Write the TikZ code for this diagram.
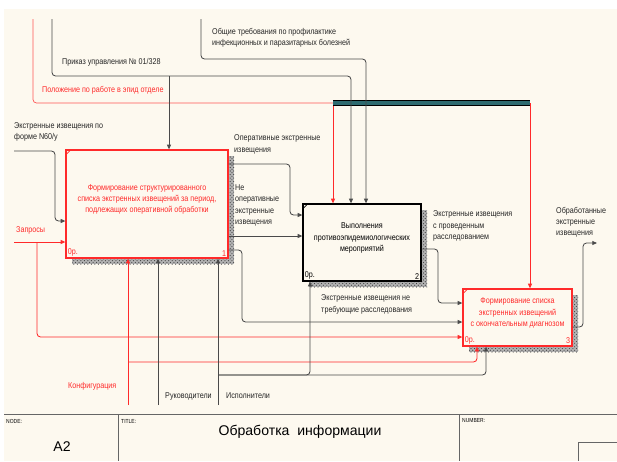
\documentclass[tikz,border=0pt]{standalone}
\usepackage{fontspec}
\usepackage{tikz}
\usetikzlibrary{positioning, arrows.meta, calc}
\usetikzlibrary{patterns}

\newfontfamily\diagfont{Liberation Sans}[FakeStretch=0.85]
\newfontfamily\titlefont{Liberation Sans}
\newcommand{\boxfont}{\diagfont\fontsize{7.2}{9.6}\selectfont}

\definecolor{bgcream}{HTML}{FDF9EF}
\definecolor{idefred}{HTML}{FF2A2A}
\definecolor{linegray}{HTML}{4A4A4A}
\definecolor{tunnelteal}{HTML}{2E6B70}

\newcommand{\idefbox}[7]{%
    % Hatched shadow, 6px to the right and below
    \fill[black!30] ($(#2)+(-#3/2+6,-#4/2+6)$) rectangle ($(#2)+(#3/2+6,#4/2+6)$);
    \fill[pattern=crosshatch dots, pattern color=black!75]
        ($(#2)+(-#3/2+6,-#4/2+6)$) rectangle ($(#2)+(#3/2+6,#4/2+6)$);
    \node[draw=#5, fill=bgcream, line width=1.1pt, minimum width=#3*0.3mm,
          minimum height=#4*0.3mm, inner sep=0pt] (#1) at (#2) {};
    % Small corner tick
    \draw[#5, line width=0.6pt] ($(#1.north west)+(0,6)$) -- ($(#1.north west)+(6,0)$);
    % Box text, cost and number
    \node[font=\boxfont, text=#5, align=center] at ($(#1.center)+(0,-4.5)$) {#7};
    \node[font=\boxfont, text=#5, anchor=south west, inner sep=2pt] at (#1.south west) {0р.};
    \node[font=\boxfont, text=#5, anchor=south east, inner sep=2pt] at (#1.south east) {#6};
}

\begin{document}
\begin{tikzpicture}[
        x=0.3mm, y=-0.3mm,
        >={Triangle[length=4pt, width=3.4pt]},
        arrow_style/.style={->, draw=linegray, line width=0.7pt, rounded corners=3},
        red_arrow/.style={->, draw=idefred, line width=0.7pt, rounded corners=3},
        red_line/.style={draw=idefred!80, line width=0.6pt, rounded corners=3},
        label_style/.style={font=\boxfont, text=black!85, align=left, anchor=west, inner sep=0pt},
        red_label/.style={label_style, text=idefred},
        frame_line/.style={draw=black!60, line width=0.6pt}
    ]
    \useasboundingbox (0,0) rectangle (617,461);
    \fill[white] (0,0) rectangle (617,461);
    \fill[bgcream] (4,9) rectangle (617,461);

    % =========================================================================
    % 1. ACTIVITY BOXES
    % =========================================================================
    \idefbox{A21}{147,204}{162}{108}{idefred}{1}{Формирование структурированного\\списка экстренных извещений за период,\\подлежащих оперативной обработки}
    \idefbox{A22}{362,242.5}{118}{77}{black}{2}{Выполнения\\противоэпидемиологических\\мероприятий}
    \idefbox{A23}{517.5,317.5}{109}{57}{idefred}{3}{Формирование списка\\экстренных извещений\\с окончательным диагнозом}

    % =========================================================================
    % 2. FREE ENDS OF THE CONNECTORS
    % =========================================================================
    \coordinate (polTop) at (33,19);
    \coordinate (prkTop) at (52,19);
    \coordinate (obsTop) at (201,19);
    \coordinate (tunL) at (333,103);
    \coordinate (tunR) at (530,103);
    \coordinate (prkR) at (351,76);
    \coordinate (prkB) at (169,76);
    \coordinate (obsR) at (366,59);
    \coordinate (n60In) at (14,151);
    \coordinate (zapIn) at (14,242);
    \coordinate (zapJ) at (37,242);
    \coordinate (konBot) at (128,405);
    \coordinate (konJ) at (128,362);
    \coordinate (rukBot) at (158,405);
    \coordinate (ispBot) at (218,405);
    \coordinate (ispJ) at (218,375);
    \coordinate (obrOut) at (597,243);

    % =========================================================================
    % 3. CONTROLS (from the top)
    % =========================================================================
    \draw[red_line] (polTop) |- (tunL);
    \draw[red_line] (tunL) -- (tunR);
    \draw[red_arrow] (tunL) -- (A22.north -| tunL);
    \draw[red_arrow] (tunR) -- (A23.north -| tunR);
    \draw[line width=5pt, black] (tunL) -- (tunR);
    \draw[line width=2.6pt, tunnelteal] (tunL) -- (tunR);

    \draw[arrow_style] (prkTop) |- (prkR) -- (A22.north -| prkR);
    \draw[arrow_style] (prkB) -- (A21.north -| prkB);
    \draw[arrow_style] (obsTop) |- (obsR) -- (A22.north -| obsR);

    % =========================================================================
    % 4. INPUTS AND MECHANISMS
    % =========================================================================
    \draw[arrow_style] (n60In) -| (55,221) -- (A21.west |- 0,221);
    \draw[red_arrow] (zapIn) -- (A21.west |- zapIn);
    \draw[red_arrow] (zapJ) |- (A23.west |- 0,337);

    \draw[red_arrow] (konBot) -- (A21.south -| konBot);
    \draw[red_arrow] (konJ) -| (A23.south -| 477,0);
    \draw[arrow_style] (rukBot) -- (A21.south -| rukBot);
    \draw[arrow_style] (ispBot) -- (A21.south -| ispBot);
    \draw[arrow_style] (ispJ) -| (A22.south -| 310,0);
    \draw[arrow_style] (ispJ) -| (A23.south -| 486,0);

    % =========================================================================
    % 5. OUTPUTS
    % =========================================================================
    \draw[arrow_style] (A21.east |- 0,164) -| (290,215) -- (A22.west |- 0,215);
    \draw[arrow_style] (A21.east |- 0,236) -- (A22.west |- 0,236);
    \draw[arrow_style] (A21.east |- 0,250) -| (242,322) -- (A23.west |- 0,322);
    \draw[arrow_style] (A22.east |- 0,249) -| (438,303) -- (A23.west |- 0,303);
    \draw[arrow_style] (A23.east |- 0,327) -| (583,243) -- (obrOut);

    % =========================================================================
    % 6. ARROW LABELS
    % =========================================================================
    \node[red_label] (lPol) at (42,90) {Положение по работе в эпид отделе};
    \node[label_style] (lPrk) at (62,62) {Приказ управления № 01/328};
    \node[label_style] (lObs) at (212,38) {Общие требования по профилактике\\инфекционных и паразитарных болезней};
    \node[label_style] (lN60) at (14,132) {Экстренные извещения по\\форме N60/у};
    \node[red_label] (lZap) at (16,230) {Запросы};
    \node[red_label] (lKon) at (68,386) {Конфигурация};
    \node[label_style] (lRuk) at (165,396) {Руководители};
    \node[label_style] (lIsp) at (226,396) {Исполнители};
    \node[label_style] (lOp) at (234,144.5) {Оперативные экстренные\\извещения};
    \node[label_style] (lNeOp) at (235,205.5) {Не\\оперативные\\экстренные\\извещения};
    \node[label_style] (lNeTr) at (321,304.5) {Экстренные извещения не\\требующие расследования};
    \node[label_style] (lRas) at (433,226) {Экстренные извещения\\с проведенным\\расследованием};
    \node[label_style] (lObr) at (556,222) {Обработанные\\экстренные\\извещения};

    % =========================================================================
    % 7. FRAME AT THE BOTTOM
    % =========================================================================
    \draw[frame_line] (4,414) -- (617,414);
    \draw[frame_line] (118,414) -- (118,461);
    \draw[frame_line] (459,414) -- (459,461);
    \draw[frame_line] (578,461) |- (617,442);
    \node[font=\diagfont\fontsize{5}{6}\selectfont, anchor=west, inner sep=0pt] (lNode) at (6,421) {NODE:};
    \node[font=\diagfont\fontsize{5}{6}\selectfont, anchor=west, inner sep=0pt] (lTitle) at (121,421) {TITLE:};
    \node[font=\diagfont\fontsize{5}{6}\selectfont, anchor=west, inner sep=0pt] (lNum) at (462,421) {NUMBER:};
    \node[font=\titlefont\fontsize{12}{14}\selectfont] (nodeId) at (62,447) {A2};
    \node[font=\titlefont\fontsize{12}{14}\selectfont] (title) at (300,432) {Обработка\ \ информации};

    \end{tikzpicture}
\end{document}
